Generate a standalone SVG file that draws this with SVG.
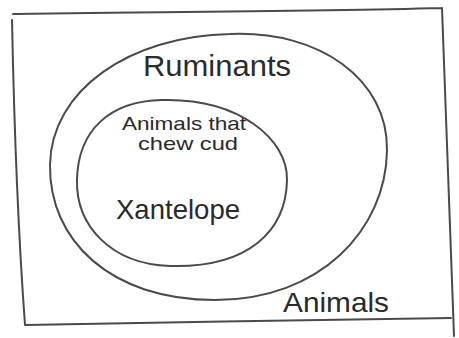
<svg xmlns="http://www.w3.org/2000/svg" width="459" height="338" viewBox="0 0 459 338">
<style>
.ln{fill:none;stroke:#4a4a4a;stroke-width:2;stroke-linecap:round;stroke-linejoin:round}
.t{font-family:"Liberation Sans","DejaVu Sans",sans-serif;fill:#2a2a2a}
</style>
<rect width="459" height="338" fill="#ffffff"/>
<g id="animals">
<path class="ln" d="M13,14 C120,12 300,12 442,8 M442,8 C446,120 450,230 454,336 M25,325 C160,322 320,320 451,318 M12,20 C14,120 18,230 25,325"/>
<text class="t" x="283" y="312" font-size="28" textLength="106" lengthAdjust="spacingAndGlyphs">Animals</text>
</g>
<g id="ruminants">
<path class="ln" d="M230,34 C320,30 388,80 387,150 C386,230 320,300 215,300 C110,300 49,240 50,165 C51,90 130,36 230,34 Z"/>
<text class="t" x="143" y="76" font-size="30" textLength="148" lengthAdjust="spacingAndGlyphs">Ruminants</text>
</g>
<g id="chew-cud">
<path class="ln" d="M162,100 C240,98 288,140 287,180 C286,230 250,268 170,266 C110,264 76,225 77,180 C78,130 110,101 162,100 Z"/>
<text class="t" x="122" y="130" font-size="19" textLength="124" lengthAdjust="spacingAndGlyphs">Animals that</text>
<text class="t" x="138" y="150" font-size="19" textLength="100" lengthAdjust="spacingAndGlyphs">chew cud</text>
<text class="t" x="116" y="219" font-size="28" textLength="124" lengthAdjust="spacingAndGlyphs">Xantelope</text>
</g>
</svg>
